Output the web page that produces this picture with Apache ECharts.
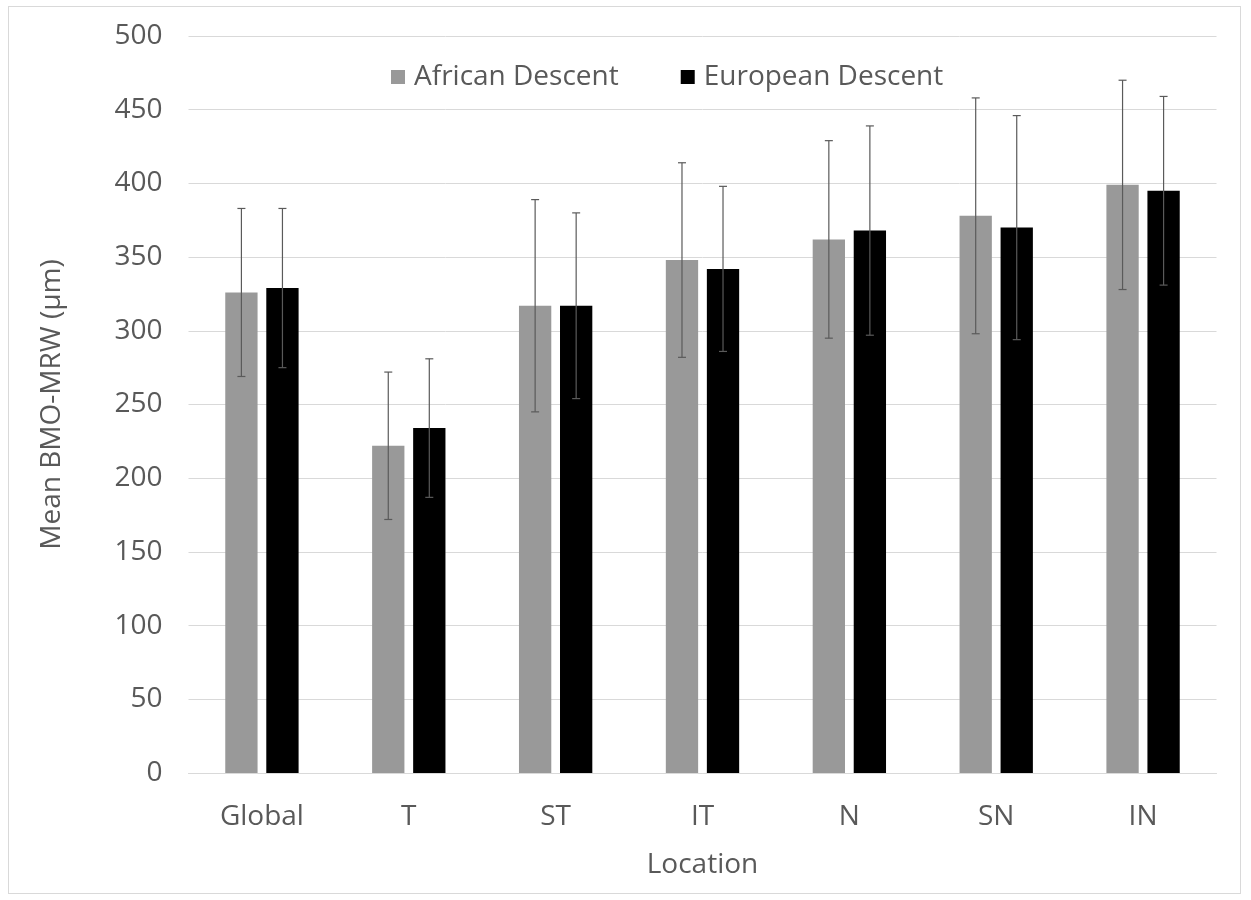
<!DOCTYPE html>
<html>
<head>
<meta charset="utf-8">
<script src="https://cdn.jsdelivr.net/npm/echarts@6/dist/echarts.min.js"></script>
<style>
  html, body { margin: 0; padding: 0; background: #fff; }
  #frame { position: absolute; left: 8px; top: 6px; width: 1233px; height: 888px; border: 1px solid #d9d9d9; box-sizing: border-box; }
  #chart { position: absolute; left: 0; top: 0; width: 1251px; height: 900px; }
</style>
</head>
<body>
<div id="frame"></div>
<div id="chart"></div>
<script>
// Mean BMO-MRW by location, with standard deviations (μm)
const locations = ['Global', 'T', 'ST', 'IT', 'N', 'SN', 'IN'];
const africanMean = [326, 222, 317, 348, 362, 378, 399];
const africanSD   = [57, 50, 72, 66, 67, 80, 71];
const europeanMean = [329, 234, 317, 342, 368, 370, 395];
const europeanSD   = [54, 47, 63, 56, 71, 76, 64];
const yTicks = [0, 50, 100, 150, 200, 250, 300, 350, 400, 450, 500];

const FONT = 'Open Sans';
const FS = 28;
const TEXT = '#595959';
const BAR_W = 0.22;     // share of the category band
const BAR_GAP = 0.27;   // share of bar width

function errorSeries(means, sds, side) {
  return {
    type: 'custom',
    z: 10,
    data: means.map((m, i) => [i, m, sds[i]]),
    renderItem: function (params, api) {
      const i = api.value(0), m = api.value(1), sd = api.value(2);
      const band = api.size([1, 0])[0];
      const off = side * band * (BAR_W + BAR_W * BAR_GAP) / 2;
      const top = api.coord([i, m + sd]);
      const bot = api.coord([i, m - sd]);
      const x = top[0] + off;
      const cap = 4;
      const style = { stroke: '#5a5a5a', lineWidth: 1.2 };
      return {
        type: 'group',
        children: [
          { type: 'line', shape: { x1: x, y1: top[1], x2: x, y2: bot[1] }, style },
          { type: 'line', shape: { x1: x - cap, y1: top[1], x2: x + cap, y2: top[1] }, style },
          { type: 'line', shape: { x1: x - cap, y1: bot[1], x2: x + cap, y2: bot[1] }, style }
        ]
      };
    }
  };
}

const chart = echarts.init(document.getElementById('chart'));
chart.setOption({
  animation: false,
  textStyle: { fontFamily: FONT },
  legend: {
    top: 58,
    left: 386,
    itemWidth: 14,
    itemHeight: 14,
    itemGap: 62,
    icon: 'rect',
    textStyle: { fontFamily: FONT, fontSize: FS, color: TEXT, padding: [0, 0, 0, 4] },
    data: ['African Descent', 'European Descent']
  },
  grid: { left: 188.5, right: 34.5, top: 36, bottom: 127 },
  xAxis: {
    type: 'category',
    data: locations,
    name: 'Location',
    nameLocation: 'middle',
    nameGap: 78,
    nameTextStyle: { fontFamily: FONT, fontSize: FS, color: TEXT },
    axisLine: { lineStyle: { color: '#d9d9d9', width: 1 } },
    axisTick: { show: false },
    axisLabel: { fontFamily: FONT, fontSize: FS, color: TEXT, margin: 30 }
  },
  yAxis: {
    type: 'value',
    min: yTicks[0],
    max: yTicks[yTicks.length - 1],
    interval: 50,
    name: 'Mean BMO-MRW (μm)',
    nameLocation: 'middle',
    nameGap: 122,
    nameTextStyle: { fontFamily: FONT, fontSize: FS, color: TEXT },
    axisLine: { show: false },
    axisTick: { show: false },
    axisLabel: { fontFamily: FONT, fontSize: FS, color: TEXT, margin: 26 },
    splitLine: { lineStyle: { color: '#d9d9d9', width: 1 } }
  },
  series: [
    {
      name: 'African Descent',
      type: 'bar',
      data: africanMean,
      barWidth: (BAR_W * 100) + '%',
      barGap: (BAR_GAP * 100) + '%',
      itemStyle: { color: '#999999' }
    },
    {
      name: 'European Descent',
      type: 'bar',
      data: europeanMean,
      barWidth: (BAR_W * 100) + '%',
      barGap: (BAR_GAP * 100) + '%',
      itemStyle: { color: '#000000' }
    },
    errorSeries(africanMean, africanSD, -1),
    errorSeries(europeanMean, europeanSD, 1)
  ]
});
</script>
</body>
</html>
